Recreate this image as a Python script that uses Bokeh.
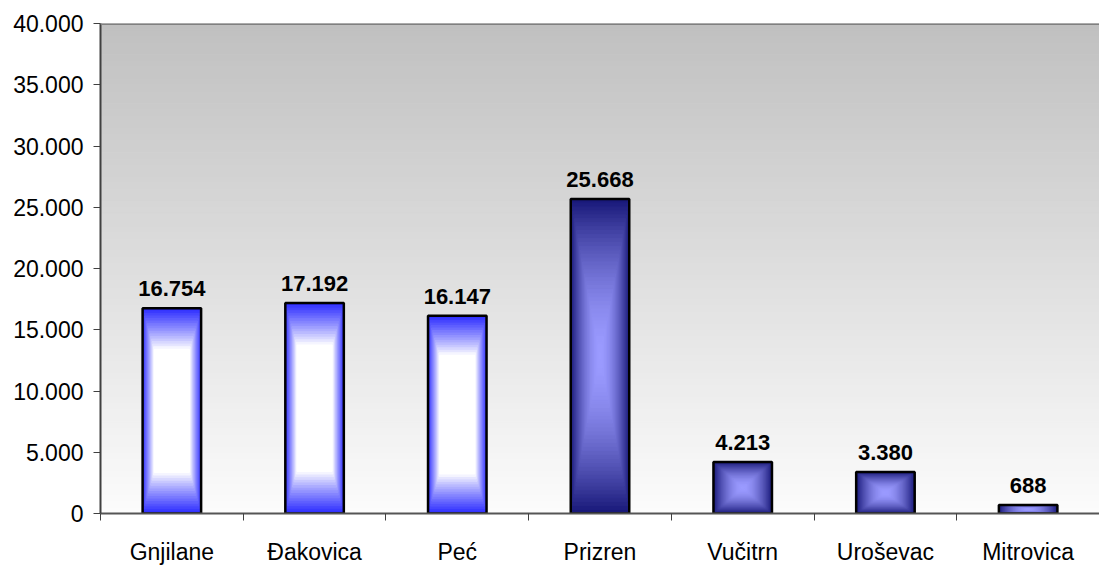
from bokeh.plotting import figure
from bokeh.models import Range1d, FixedTicker, Span, ColumnDataSource
from bokeh.core.properties import value
from bokeh.embed import file_html
from bokeh.resources import INLINE

categories = ["Gnjilane", "Đakovica", "Peć", "Prizren", "Vučitrn", "Uroševac", "Mitrovica"]
values = [16754, 17192, 16147, 25668, 4213, 3380, 688]
y_ticks = [0, 5000, 10000, 15000, 20000, 25000, 30000, 35000, 40000]
bar_styles = ["light", "light", "light", "dark", "dark", "dark", "dark"]

FONT = "Liberation Sans"


def fmt(v):
    return f"{v:,}".replace(",", ".")


def lerp(c1, c2, t):
    t = max(0.0, min(1.0, t))
    return "#%02x%02x%02x" % tuple(int(round(a + (b - a) * t)) for a, b in zip(c1, c2))


def bar_color(style, d):
    # d: 1 at outer edge, 0 at centre
    if style == "light":
        edge, centre = (40, 40, 255), (255, 255, 255)
        return lerp(centre, edge, ((d - 0.6) / 0.4) ** 0.9 if d > 0.6 else 0)
    edge, centre = (22, 22, 118), (155, 155, 255)
    return lerp(centre, edge, d ** 1.7)


n = len(categories)
p = figure(width=1099, height=567, output_backend="svg", toolbar_location=None,
           x_range=Range1d(0, n), y_range=Range1d(0, y_ticks[-1]),
           min_border_left=100, min_border_top=23, min_border_bottom=52, min_border_right=0)
p.outline_line_color = None
p.background_fill_color = "white"
p.border_fill_color = "white"
p.xgrid.visible = False
p.ygrid.visible = False

# background gradient
nb = 80
bg_bottom, bg_top, bg_col = [], [], []
for k in range(nb):
    b = y_ticks[-1] * k / nb
    t = y_ticks[-1] * (k + 1) / nb
    bg_bottom.append(b)
    bg_top.append(t)
    bg_col.append(lerp((252, 252, 252), (192, 192, 192), (k + 0.5) / nb))
p.quad(left=0, right=n, bottom=bg_bottom, top=bg_top, fill_color=bg_col,
       line_color=bg_col, line_width=1)

# bars with rectangular centre gradient
half_w = 0.205
K = 40
L, R, B, T, C = [], [], [], [], []
for i, (v, st) in enumerate(zip(values, bar_styles)):
    cx = i + 0.5
    cy = v / 2.0
    for k in range(K):
        s = 1 - k / K
        L.append(cx - half_w * s)
        R.append(cx + half_w * s)
        B.append(cy - cy * s)
        T.append(cy + cy * s)
        C.append(bar_color(st, s - 0.5 / K))
p.quad(left=L, right=R, bottom=B, top=T, fill_color=C, line_color=C, line_width=1)

centers = [i + 0.5 for i in range(n)]
p.quad(left=[c - half_w for c in centers], right=[c + half_w for c in centers],
       bottom=0, top=values, fill_color=None, line_color="black", line_width=2.5)

src = ColumnDataSource(dict(x=centers, y=values, t=[fmt(v) for v in values]))
p.text(x="x", y="y", text="t", source=src, text_align="center", text_baseline="bottom",
       y_offset=-12, text_font=value(FONT), text_font_style="bold", text_font_size="22px",
       text_color="black")

p.add_layout(Span(location=y_ticks[-1], dimension="width", line_color="#808080", line_width=3))

# y axis
ya = p.yaxis[0]
ya.ticker = FixedTicker(ticks=y_ticks, minor_ticks=[])
ya.major_label_overrides = {t: fmt(t) for t in y_ticks}
ya.major_label_text_font = FONT
ya.major_label_text_font_size = "23px"
ya.major_label_text_color = "black"
ya.major_label_standoff = 10
ya.major_tick_out = 7
ya.major_tick_in = 0
ya.major_tick_line_color = "#404040"
ya.axis_line_color = "#404040"
ya.axis_line_width = 2
ya.minor_tick_line_color = None

# x axis
xa = p.xaxis[0]
xa.ticker = FixedTicker(ticks=centers, minor_ticks=list(range(n + 1)))
xa.major_label_overrides = {c: name for c, name in zip(centers, categories)}
xa.major_label_text_font = FONT
xa.major_label_text_font_size = "23px"
xa.major_label_text_color = "black"
xa.major_label_standoff = 18
xa.major_tick_line_color = None
xa.minor_tick_out = 7
xa.minor_tick_in = 0
xa.minor_tick_line_color = "#404040"
xa.axis_line_color = "#555555"
xa.axis_line_width = 2

open("out.html", "w").write(file_html(p, INLINE))
